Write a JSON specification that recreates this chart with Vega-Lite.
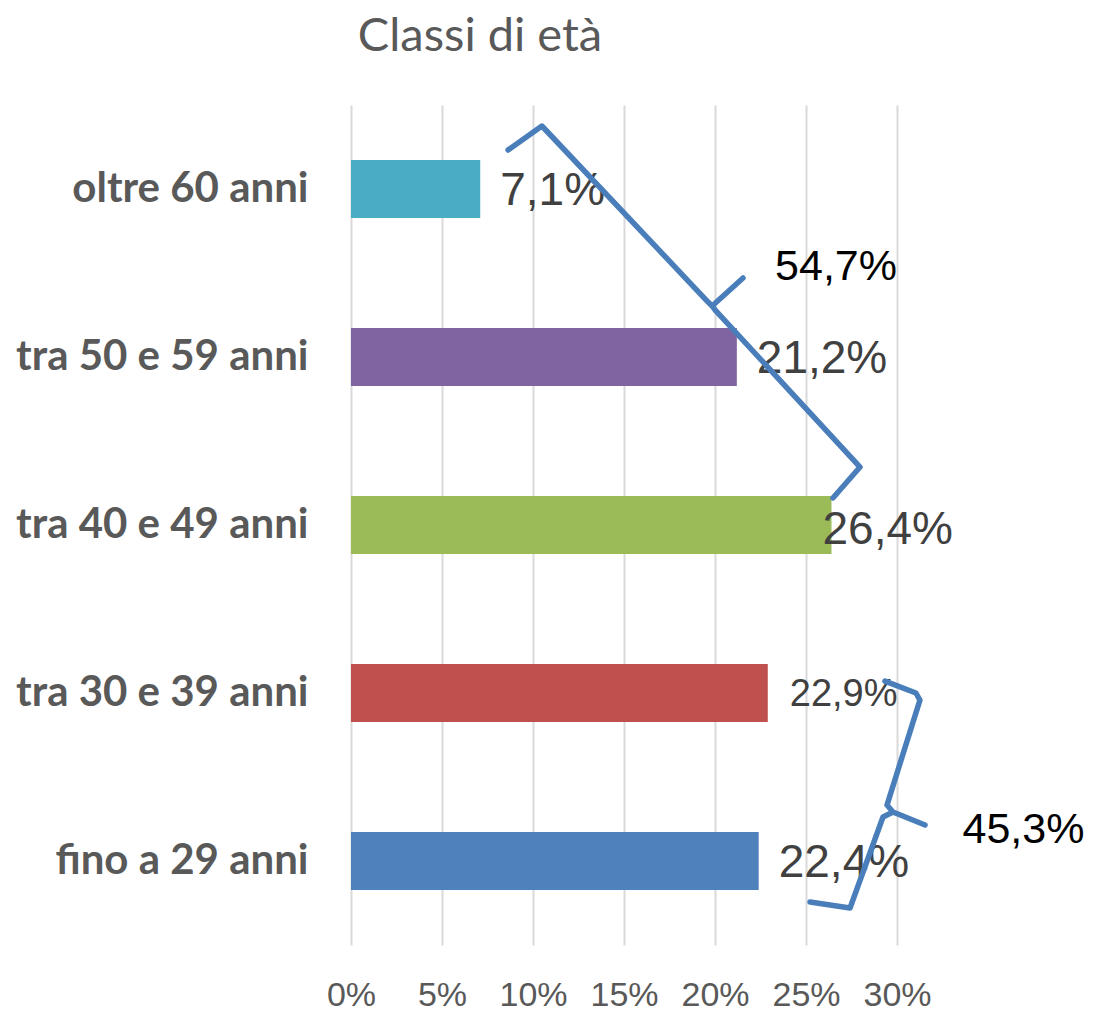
{
  "$schema": "https://vega.github.io/schema/vega-lite/v6.json",
  "width": 546,
  "height": 840,
  "autosize": {"type": "none"},
  "padding": {"left": 351, "top": 105, "right": 196, "bottom": 66},
  "background": "white",
  "config": {
    "view": {"stroke": null},
    "locale": {"number": {"decimal": ",", "thousands": ".", "grouping": [3], "currency": ["", " €"]}},
    "axisX": {
      "domain": false,
      "ticks": false,
      "grid": true,
      "gridColor": "#D9D9D9",
      "gridWidth": 2,
      "labelFont": "Liberation Sans",
      "labelFontSize": 34,
      "labelColor": "#595959",
      "labelPadding": 33,
      "labelFlush": false,
      "labelOverlap": false
    },
    "axisY": {
      "domain": false,
      "ticks": false,
      "grid": false,
      "labelFont": "Lato",
      "labelFontWeight": "bold",
      "labelFontSize": 42,
      "labelColor": "#595959",
      "labelPadding": 43,
      "labelLimit": 400
    }
  },
  "title": {
    "text": "Classi di età",
    "font": "Lato",
    "fontSize": 47,
    "fontWeight": "normal",
    "color": "#595959",
    "anchor": "middle",
    "frame": "group",
    "dx": -144,
    "offset": 44
  },
  "datasets": {
    "classi": [
      {"classe": "oltre 60 anni", "quota": 0.071},
      {"classe": "tra 50 e 59 anni", "quota": 0.212},
      {"classe": "tra 40 e 49 anni", "quota": 0.264},
      {"classe": "tra 30 e 39 anni", "quota": 0.229},
      {"classe": "fino a 29 anni", "quota": 0.224}
    ],
    "parentesi": [
      {"b": 1, "i": 1, "x": 0.0863, "y": 4.732},
      {"b": 1, "i": 2, "x": 0.1049, "y": 4.875},
      {"b": 1, "i": 3, "x": 0.1962, "y": 3.827},
      {"b": 1, "i": 4, "x": 0.1984, "y": 3.804},
      {"b": 1, "i": 5, "x": 0.2154, "y": 3.970},
      {"b": 1, "i": 6, "x": 0.1984, "y": 3.804},
      {"b": 1, "i": 7, "x": 0.2005, "y": 3.774},
      {"b": 1, "i": 8, "x": 0.2797, "y": 2.845},
      {"b": 1, "i": 9, "x": 0.2648, "y": 2.661},
      {"b": 2, "i": 1, "x": 0.2934, "y": 1.571},
      {"b": 2, "i": 2, "x": 0.3104, "y": 1.500},
      {"b": 2, "i": 3, "x": 0.3126, "y": 1.458},
      {"b": 2, "i": 4, "x": 0.2945, "y": 0.833},
      {"b": 2, "i": 5, "x": 0.2978, "y": 0.792},
      {"b": 2, "i": 6, "x": 0.3154, "y": 0.714},
      {"b": 2, "i": 7, "x": 0.2978, "y": 0.792},
      {"b": 2, "i": 8, "x": 0.2923, "y": 0.762},
      {"b": 2, "i": 9, "x": 0.2742, "y": 0.220},
      {"b": 2, "i": 10, "x": 0.2522, "y": 0.256}
    ],
    "totali": [
      {"testo": "54,7%", "x": 0.233, "y": 4.036},
      {"testo": "45,3%", "x": 0.336, "y": 0.685}
    ]
  },
  "layer": [
    {
      "data": {"name": "classi"},
      "encoding": {
        "y": {
          "field": "classe",
          "type": "nominal",
          "sort": null,
          "scale": {"paddingInner": 0.655, "paddingOuter": 0.3275},
          "axis": {"title": null}
        },
        "x": {
          "field": "quota",
          "type": "quantitative",
          "scale": {"domain": [0, 0.3], "nice": false},
          "axis": {"title": null, "values": [0, 0.05, 0.1, 0.15, 0.2, 0.25, 0.3], "format": ".0%"}
        }
      },
      "layer": [
        {
          "mark": {"type": "bar"},
          "encoding": {
            "color": {
              "field": "classe",
              "type": "nominal",
              "scale": {
                "domain": ["oltre 60 anni", "tra 50 e 59 anni", "tra 40 e 49 anni", "tra 30 e 39 anni", "fino a 29 anni"],
                "range": ["#4BACC6", "#8064A2", "#9BBB59", "#C0504D", "#4F81BD"]
              },
              "legend": null
            }
          }
        },
        {
          "transform": [{"filter": "datum.classe !== 'tra 30 e 39 anni' && datum.classe !== 'tra 40 e 49 anni'"}],
          "mark": {"type": "text", "align": "left", "baseline": "middle", "dx": 20, "dy": 2, "font": "Liberation Sans", "fontSize": 46, "color": "#404040"},
          "encoding": {"text": {"field": "quota", "type": "quantitative", "format": ".1%"}}
        },
        {
          "transform": [{"filter": "datum.classe === 'tra 40 e 49 anni'"}],
          "mark": {"type": "text", "align": "left", "baseline": "middle", "dx": -9, "dy": 5, "font": "Liberation Sans", "fontSize": 46, "color": "#404040"},
          "encoding": {"text": {"field": "quota", "type": "quantitative", "format": ".1%"}}
        },
        {
          "transform": [{"filter": "datum.classe === 'tra 30 e 39 anni'"}],
          "mark": {"type": "text", "align": "left", "baseline": "middle", "dx": 22, "dy": 2, "font": "Liberation Sans", "fontSize": 38, "color": "#404040"},
          "encoding": {"text": {"field": "quota", "type": "quantitative", "format": ".1%"}}
        }
      ]
    },
    {
      "data": {"name": "parentesi"},
      "mark": {"type": "line", "color": "#4A7EBB", "strokeWidth": 5.5, "strokeJoin": "round", "strokeCap": "round"},
      "encoding": {
        "x": {"field": "x", "type": "quantitative", "scale": {"domain": [0, 0.3], "nice": false}, "axis": {"title": null, "values": [0, 0.05, 0.1, 0.15, 0.2, 0.25, 0.3], "format": ".0%"}},
        "y": {"field": "y", "type": "quantitative", "scale": {"domain": [0, 5], "nice": false, "zero": false}, "axis": null},
        "detail": {"field": "b", "type": "nominal"},
        "order": {"field": "i", "type": "quantitative"}
      }
    },
    {
      "data": {"name": "totali"},
      "mark": {"type": "text", "align": "left", "baseline": "middle", "font": "Liberation Sans", "fontSize": 43, "color": "#000000"},
      "encoding": {
        "x": {"field": "x", "type": "quantitative", "scale": {"domain": [0, 0.3], "nice": false}, "axis": {"title": null, "values": [0, 0.05, 0.1, 0.15, 0.2, 0.25, 0.3], "format": ".0%"}},
        "y": {"field": "y", "type": "quantitative", "scale": {"domain": [0, 5], "nice": false, "zero": false}, "axis": null},
        "text": {"field": "testo", "type": "nominal"}
      }
    }
  ],
  "resolve": {"scale": {"y": "independent"}}
}
